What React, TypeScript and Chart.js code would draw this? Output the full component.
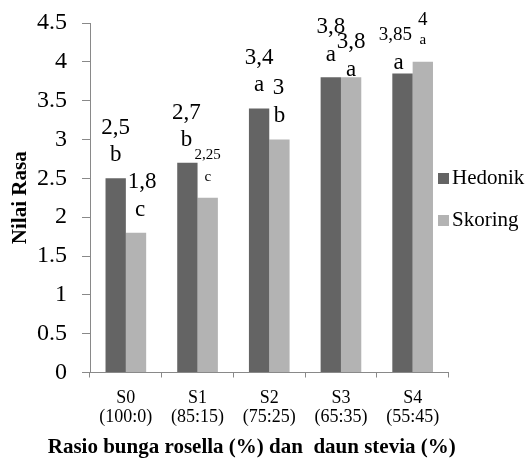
import React, { useEffect, useRef } from "react";
import { Chart, registerables } from "chart.js";

Chart.register(...registerables);

// Perlakuan: rasio bunga rosella : daun stevia
const categories: string[][] = [
  ["S0", "(100:0)"],
  ["S1", "(85:15)"],
  ["S2", "(75:25)"],
  ["S3", "(65:35)"],
  ["S4", "(55:45)"],
];

// Nilai rasa per metode uji
const hedonik = [2.5, 2.7, 3.4, 3.8, 3.85];
const skoring = [1.8, 2.25, 3.0, 3.8, 4.0];

// Notasi beda nyata
const hedonikNotasi = ["b", "b", "a", "a", "a"];
const skoringNotasi = ["c", "c", "b", "a", "a"];

const yMin = 0;
const yMax = 4.5;
const yStep = 0.5;

const SERIF = "'Liberation Serif', 'Times New Roman', serif";
const COLOR_HEDONIK = "#646464";
const COLOR_SKORING = "#b3b3b3";
const AXIS_COLOR = "#898989";

// Label placement relative to each bar top: [dx, dy, fontSize]
const valueLabelStyle: number[][][] = [
  [[0, -50, 23], [-1, -50, 23], [0, -50, 23], [0, -50, 23], [-7, -38, 19]],
  [[6, -51, 23], [0, -43, 15], [-1, -52, 23], [0, -35, 23], [0, -42, 19]],
];
const notasiLabelStyle: number[][][] = [
  [[0, -23, 23], [-1, -23, 23], [0, -23, 23], [0, -22, 23], [-4, -11, 23]],
  [[4, -23, 23], [0, -21, 15], [0, -24, 23], [0, -7, 23], [0, -22, 15]],
];

const formatValue = (v: number) => v.toString().replace(".", ",");

const barLabels = {
  id: "barLabels",
  afterDatasetsDraw(chart: any) {
    const ctx = chart.ctx;
    const notasi = [hedonikNotasi, skoringNotasi];
    ctx.save();
    ctx.fillStyle = "#000";
    ctx.textAlign = "center";
    ctx.textBaseline = "middle";
    chart.data.datasets.forEach((ds: any, di: number) => {
      const meta = chart.getDatasetMeta(di);
      meta.data.forEach((el: any, i: number) => {
        const [vdx, vdy, vsz] = valueLabelStyle[di][i];
        ctx.font = `${vsz}px ${SERIF}`;
        ctx.fillText(formatValue(ds.data[i]), el.x + vdx, el.y + vdy);
        const [ndx, ndy, nsz] = notasiLabelStyle[di][i];
        ctx.font = `${nsz}px ${SERIF}`;
        ctx.fillText(notasi[di][i], el.x + ndx, el.y + ndy);
      });
    });
    ctx.restore();
  },
};

const sideLegend = {
  id: "sideLegend",
  afterDraw(chart: any) {
    const ctx = chart.ctx;
    const area = chart.chartArea;
    const left = area.right - 10.5;
    const rowsY = [178.5, 220.5];
    const box = 11;
    ctx.save();
    ctx.font = `21px ${SERIF}`;
    ctx.textBaseline = "middle";
    ctx.textAlign = "left";
    chart.data.datasets.forEach((ds: any, i: number) => {
      const y = rowsY[i];
      ctx.fillStyle = ds.backgroundColor;
      ctx.fillRect(left, y - box / 2, box, box);
      ctx.fillStyle = "#000";
      ctx.fillText(ds.label, left + box + 3, y);
    });
    ctx.restore();
  },
};

const xAxisTitle = {
  id: "xAxisTitle",
  afterDraw(chart: any) {
    const ctx = chart.ctx;
    const area = chart.chartArea;
    ctx.save();
    ctx.font = `bold 21px ${SERIF}`;
    ctx.fillStyle = "#000";
    ctx.textAlign = "center";
    ctx.textBaseline = "middle";
    ctx.fillText(
      "Rasio bunga rosella (%) dan  daun stevia (%)",
      (area.left + area.right) / 2 - 17.5,
      448
    );
    ctx.restore();
  },
};

export default function App() {
  const canvasRef = useRef<HTMLCanvasElement | null>(null);

  useEffect(() => {
    document.body.style.margin = "0";
    const canvas = canvasRef.current;
    if (!canvas) return;

    const chart = new Chart(canvas, {
      type: "bar",
      data: {
        labels: categories,
        datasets: [
          {
            label: "Hedonik",
            data: hedonik,
            backgroundColor: COLOR_HEDONIK,
            borderWidth: 0,
            categoryPercentage: 0.567,
            barPercentage: 1,
          },
          {
            label: "Skoring",
            data: skoring,
            backgroundColor: COLOR_SKORING,
            borderWidth: 0,
            categoryPercentage: 0.567,
            barPercentage: 1,
          },
        ],
      },
      options: {
        responsive: false,
        animation: false,
        devicePixelRatio: 1,
        layout: { padding: { top: 23, right: 79.5, left: 0, bottom: 0 } },
        plugins: {
          legend: { display: false },
          tooltip: { enabled: false },
          title: { display: false },
        },
        scales: {
          x: {
            offset: true,
            grid: {
              offset: true,
              drawOnChartArea: false,
              drawTicks: true,
              tickLength: 5,
              color: AXIS_COLOR,
            },
            border: { display: true, color: AXIS_COLOR, width: 1 },
            ticks: {
              color: "#000",
              padding: 11,
              maxRotation: 0,
              autoSkip: false,
              font: { family: SERIF, size: 18, lineHeight: 1.05 },
            },
            afterFit(scale: any) {
              scale.height = 89.5;
              scale.paddingLeft = 0;
              scale.paddingRight = 0;
            },
          },
          y: {
            min: yMin,
            max: yMax,
            grid: {
              drawOnChartArea: false,
              drawTicks: true,
              tickLength: 8,
              color: AXIS_COLOR,
            },
            border: { display: true, color: AXIS_COLOR, width: 1 },
            ticks: {
              stepSize: yStep,
              color: "#000",
              padding: 15,
              font: { family: SERIF, size: 24 },
              callback: (v: any) => String(v),
            },
            title: {
              display: true,
              text: "Nilai Rasa",
              color: "#000",
              font: { family: SERIF, size: 21, weight: "bold" },
              padding: { top: 8, bottom: 0 },
            },
            afterFit(scale: any) {
              scale.width = 90;
              scale.paddingTop = 0;
              scale.paddingBottom = 0;
            },
          },
        },
      },
      plugins: [barLabels, sideLegend, xAxisTitle],
    });

    return () => chart.destroy();
  }, []);

  return (
    <div style={{ width: 528, height: 462, background: "#fff" }}>
      <canvas ref={canvasRef} width={528} height={462} />
    </div>
  );
}
